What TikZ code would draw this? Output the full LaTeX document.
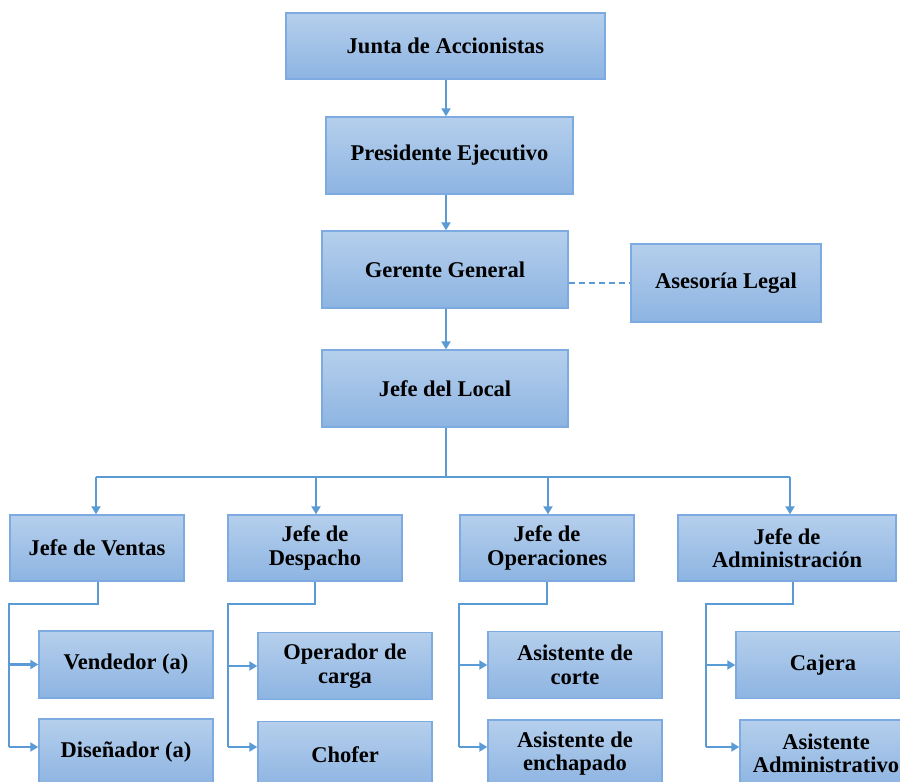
\documentclass[tikz,border=0pt]{standalone}
\usepackage{fontspec}
\setmainfont{Liberation Serif}
\usetikzlibrary{arrows.meta,calc}
\definecolor{boxtop}{HTML}{B5CFEC}
\definecolor{boxbot}{HTML}{8DB4E2}
\definecolor{boxline}{HTML}{7DAAE0}
\definecolor{conn}{HTML}{5B9BD5}
\tikzset{
  orgbox/.style={rectangle, draw=boxline, line width=1.4pt, top color=boxtop, bottom color=boxbot,
    align=center, font=\fontsize{22.5}{23.5}\selectfont\bfseries, inner sep=2pt},
  conline/.style={draw=conn, line width=2.8pt},
  arr/.style={conline, -{Triangle[length=8pt,width=9pt]}},
}
\begin{document}
\begin{tikzpicture}[x=1pt,y=-1pt]
\useasboundingbox (0,0) rectangle (900,782);
\clip (0,0) rectangle (900,782);
\fill[white] (0,0) rectangle (900,782);
% top chain
\node[orgbox, minimum width=319pt, minimum height=66pt] (junta) at (445.5,46) {Junta de Accionistas};
\node[orgbox, minimum width=247pt, minimum height=77pt] (pres) at (449.5,155.5) {Presidente Ejecutivo};
\node[orgbox, minimum width=246pt, minimum height=77pt] (ger) at (445,269.5) {Gerente General};
\node[orgbox, minimum width=190pt, minimum height=78pt] (ases) at (726,283) {Asesoría Legal};
\node[orgbox, minimum width=246pt, minimum height=77pt] (local) at (445,388.5) {Jefe del Local};
\coordinate (spine) at (446,0);
\coordinate (bus) at (0,477);
% jefes
\node[orgbox, minimum width=174pt, minimum height=66pt] (ventas) at (97,548) {Jefe de Ventas};
\node[orgbox, minimum width=174pt, minimum height=66pt] (desp) at (315,548) {Jefe de\\Despacho};
\node[orgbox, minimum width=174pt, minimum height=66pt] (oper) at (547,548) {Jefe de\\Operaciones};
\node[orgbox, minimum width=218pt, minimum height=66pt] (adm) at (787,548) {Jefe de\\Administración};
% row 2
\node[orgbox, minimum width=174pt, minimum height=67pt] (vend) at (126,664.5) {Vendedor (a)};
\node[orgbox, minimum width=174pt, minimum height=67pt] (opca) at (345,666) {Operador de\\carga};
\node[orgbox, minimum width=174pt, minimum height=67pt] (corte) at (575,665) {Asistente de\\corte};
\node[orgbox, minimum width=174pt, minimum height=67pt] (caja) at (823,665) {Cajera};
% row 3
\node[orgbox, minimum width=174pt, minimum height=67pt] (dise) at (126,752.5) {Diseñador (a)};
\node[orgbox, minimum width=174pt, minimum height=67pt] (chof) at (345,755) {Chofer};
\node[orgbox, minimum width=174pt, minimum height=67pt] (ench) at (575,753.5) {Asistente de\\enchapado};
\node[orgbox, minimum width=172pt, minimum height=67pt] (asad) at (826,753.5) {Asistente\\Administrativo};
% top connectors
\draw[arr] (junta.south -| spine) -- (pres.north -| spine);
\draw[arr] (pres.south -| spine) -- (ger.north -| spine);
\draw[arr] (ger.south -| spine) -- (local.north -| spine);
\draw[draw=conn, line width=1.4pt, dash pattern=on 6pt off 4pt] (ger.east |- ases.west) -- (ases.west);
% bus
\draw[conline] (local.south -| spine) -- (spine |- bus);
\draw[conline] ($(ventas.north |- bus)+(-1,0)$) -- ($(adm.north |- bus)+(3,0)$);
\draw[arr] ($(ventas.north |- bus)+(-1,0)$) -- ($(ventas.north)+(-1,0)$);
\draw[arr] ($(desp.north |- bus)+(1,0)$) -- ($(desp.north)+(1,0)$);
\draw[arr] ($(oper.north |- bus)+(1,0)$) -- ($(oper.north)+(1,0)$);
\draw[arr] ($(adm.north |- bus)+(3,0)$) -- ($(adm.north)+(3,0)$);
% sub branches
\foreach \j/\a/\b/\xx/\dx in {ventas/vend/dise/9/1, desp/opca/chof/228/0, oper/corte/ench/459/0, adm/caja/asad/706/6}{
  \coordinate (L) at (\xx,604);
  \coordinate (B) at (\xx,747);
  \draw[conline] ($(\j.south)+(\dx,0)$) |- (L) -- (B);
  \draw[arr] (L |- \a.west) -- (\a.west);
  \draw[arr] (B) -- (\b.west |- B);
}
\end{tikzpicture}
\end{document}
